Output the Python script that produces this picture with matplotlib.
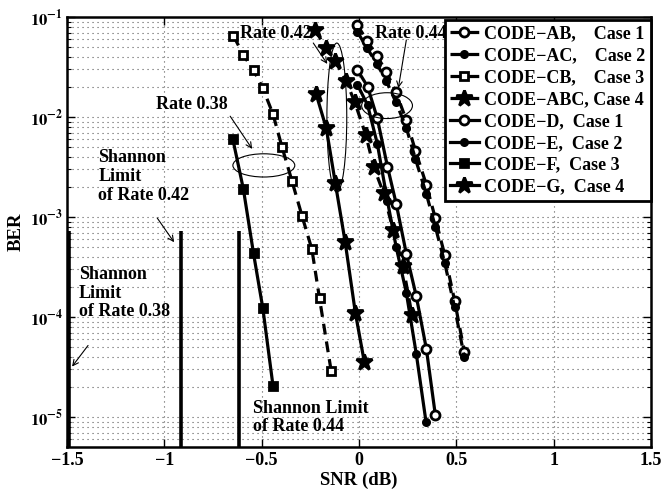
import numpy as np
import matplotlib
matplotlib.use("Agg")
import matplotlib.pyplot as plt
from matplotlib.patches import Ellipse
from matplotlib.ticker import FixedLocator, FuncFormatter

plt.rcParams["font.family"] = ["Liberation Serif", "DejaVu Serif"]
plt.rcParams["font.weight"] = "bold"
plt.rcParams["mathtext.fontset"] = "stix"
plt.rcParams["mathtext.default"] = "bf"

# --- data ---
ab_snr = [-0.008, 0.041, 0.092, 0.140, 0.190, 0.243, 0.290, 0.346, 0.392, 0.440, 0.491, 0.541]
ab_ber = [0.083, 0.058, 0.041, 0.0284, 0.0177, 0.0093, 0.0046, 0.0021, 9.7e-4, 4.2e-4, 1.46e-4, 4.5e-5]
ac_snr = [-0.008, 0.041, 0.092, 0.140, 0.190, 0.243, 0.290, 0.346, 0.392, 0.440, 0.491, 0.541]
ac_ber = [0.071, 0.049, 0.034, 0.023, 0.014, 0.0078, 0.0038, 0.0017, 8.0e-4, 3.5e-4, 1.25e-4, 4.0e-5]
cb_snr = [-0.645, -0.594, -0.542, -0.494, -0.442, -0.396, -0.345, -0.293, -0.242, -0.203, -0.143]
cb_ber = [0.065, 0.0417, 0.0295, 0.0194, 0.0107, 0.00505, 0.00231, 0.00103, 4.75e-4, 1.54e-4, 2.88e-5]
abc_snr = [-0.225, -0.168, -0.122, -0.066, -0.022, 0.035, 0.075, 0.126, 0.175, 0.226, 0.272]
abc_ber = [0.074, 0.0486, 0.0363, 0.0229, 0.0141, 0.0066, 0.0032, 0.00173, 7.5e-4, 3.24e-4, 1.05e-4]
d_snr = [-0.008, 0.044, 0.094, 0.146, 0.191, 0.243, 0.294, 0.346, 0.392]
d_ber = [0.0295, 0.0202, 0.0097, 0.0032, 0.00136, 4.3e-4, 1.62e-4, 4.8e-5, 1.05e-5]
e_snr = [-0.008, 0.044, 0.094, 0.146, 0.191, 0.243, 0.294, 0.344]
e_ber = [0.021, 0.0132, 0.0054, 0.00145, 5.0e-4, 1.75e-4, 4.3e-5, 9.0e-6]
f_snr = [-0.648, -0.594, -0.542, -0.494, -0.442]
f_ber = [0.00598, 0.0019, 4.33e-4, 1.22e-4, 2.06e-5]
g_snr = [-0.220, -0.168, -0.122, -0.071, -0.019, 0.027]
g_ber = [0.0169, 0.0077, 0.0022, 5.6e-4, 1.11e-4, 3.57e-5]

shannon_snr = [-1.49, -0.912, -0.615]
shannon_top = 7.3e-4

x_ticks = [-1.5, -1, -0.5, 0, 0.5, 1, 1.5]
x_labels = ["\u22121.5", "\u22121", "\u22120.5", "0", "0.5", "1", "1.5"]

DASH = (0, (3.4, 2.2))
LW = 2.3

fig = plt.figure(figsize=(6.61, 4.94), dpi=100)
ax = fig.add_axes([0.1014, 0.095, 0.8835, 0.8705])

curves = [
    (ab_snr, ab_ber, DASH, "o", 6.5, "white", "CODE\u2212AB,    Case 1"),
    (ac_snr, ac_ber, DASH, "o", 4.5, "black", "CODE\u2212AC,    Case 2"),
    (cb_snr, cb_ber, DASH, "s", 6, "white", "CODE\u2212CB,    Case 3"),
    (abc_snr, abc_ber, DASH, "*", 12, "black", "CODE\u2212ABC, Case 4"),
    (d_snr, d_ber, "-", "o", 6.5, "white", "CODE\u2212D,  Case 1"),
    (e_snr, e_ber, "-", "o", 4.5, "black", "CODE\u2212E,  Case 2"),
    (f_snr, f_ber, "-", "s", 6, "black", "CODE\u2212F,  Case 3"),
    (g_snr, g_ber, "-", "*", 12, "black", "CODE\u2212G,  Case 4"),
]
for x, y, ls, mk, ms, fc, lab in curves:
    ax.semilogy(x, y, color="black", ls=ls, lw=LW, marker=mk, ms=ms,
                mfc=fc, mec="black", mew=2, label=lab)

ax.vlines(shannon_snr, 5e-6, shannon_top, color="black", lw=2.6)

ax.set_xlim(-1.5, 1.5)
ax.set_ylim(10 ** -5.3, 1e-1)
ax.xaxis.set_major_locator(FixedLocator(x_ticks))
ax.set_xticklabels(x_labels)
ax.yaxis.set_major_formatter(FuncFormatter(
    lambda v, p: r"$10^{%d}$" % int(round(np.log10(v)))))

ax.tick_params(which="both", direction="in", top=True, right=True, labelsize=13)
ax.tick_params(axis="y", labelsize=12, pad=3)
ax.tick_params(which="major", length=6, width=1)
ax.tick_params(which="minor", length=3, width=0.8)
for s in ax.spines.values():
    s.set_linewidth(1.8)

grid_kw = dict(color="0.35", lw=0.8, ls=(0, (1, 3.5)))
ax.xaxis.grid(True, which="major", **grid_kw)
ax.yaxis.grid(True, which="both", **grid_kw)
ax.set_axisbelow(True)

ax.set_xlabel("SNR (dB)", fontsize=13.5, fontweight="bold", labelpad=2)
ax.set_ylabel("BER", fontsize=13.5, fontweight="bold")
ax.yaxis.set_label_coords(-0.072, 0.5)

# annotations
txt = dict(fontsize=13, fontweight="bold")
arr = dict(arrowstyle="->", lw=0.8, color="black", shrinkA=0, shrinkB=0)

ax.text(-0.425, 0.069, "Rate 0.42", ha="center", va="center", **txt)
ax.annotate("", xy=(-0.163, 0.034), xytext=(-0.235, 0.055), arrowprops=arr)
ax.text(-0.857, 0.0135, "Rate 0.38", ha="center", va="center", **txt)
ax.annotate("", xy=(-0.549, 0.0048), xytext=(-0.662, 0.0102), arrowprops=arr)
ax.text(0.264, 0.069, "Rate 0.44", ha="center", va="center", **txt)
ax.annotate("", xy=(0.202, 0.0195), xytext=(0.243, 0.059), arrowprops=arr)

ax.text(-1.34, 0.00257, "Shannon\nLimit\nof Rate 0.42", ha="left", va="center",
        linespacing=1.15, **txt)
ax.annotate("", xy=(-0.95, 5.6e-4), xytext=(-1.037, 9.8e-4), arrowprops=arr)
ax.text(-1.438, 1.74e-4, "Shannon\nLimit\nof Rate 0.38", ha="left", va="center",
        linespacing=1.15, **txt)
ax.annotate("", xy=(-1.474, 3.2e-5), xytext=(-1.392, 5.2e-5), arrowprops=arr)
ax.text(-0.544, 9.9e-6, "Shannon Limit\nof Rate 0.44", ha="left", va="center",
        linespacing=1.1, **txt)

# rate ellipses (axes fraction)
for cx, cy, w, h in [(0.462, 0.766, 0.034, 0.347),
                     (0.337, 0.655, 0.106, 0.054),
                     (0.548, 0.794, 0.087, 0.060)]:
    ax.add_patch(Ellipse((cx, cy), w, h, transform=ax.transAxes,
                         fill=False, ec="black", lw=0.8, zorder=5))

leg = ax.legend(loc="upper right", bbox_to_anchor=(1.0, 0.993), borderaxespad=0,
                handlelength=1.6, handletextpad=0.3, labelspacing=0.27,
                borderpad=0.3, fancybox=False, framealpha=1, edgecolor="black",
                prop={"weight": "bold", "size": 13})
leg.get_frame().set_linewidth(2)
leg.set_zorder(10)

fig.savefig("out.png", dpi=100)
